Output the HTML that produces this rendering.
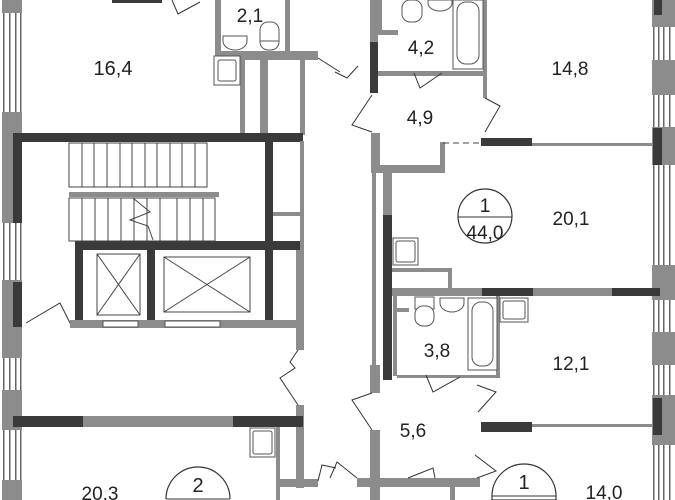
<!DOCTYPE html>
<html><head><meta charset="utf-8"><style>
html,body{margin:0;padding:0;background:#fff;width:675px;height:500px;overflow:hidden}
svg{display:block;overflow:hidden}
text{font-family:"Liberation Sans",sans-serif;fill:#222;text-anchor:middle}
</style></head><body>
<svg width="675" height="500" viewBox="0 0 675 500" xmlns="http://www.w3.org/2000/svg">
<defs>
<pattern id="win" width="22" height="4" patternUnits="userSpaceOnUse">
<rect width="22" height="4" fill="#fff"/>
<rect x="3" width="1.5" height="4" fill="#666"/><rect x="9" width="1.5" height="4" fill="#666"/><rect x="15" width="1.5" height="4" fill="#666"/><rect x="20" width="1.5" height="4" fill="#666"/>
</pattern>
</defs>
<rect x="0" y="0" width="22" height="500" fill="url(#win)"/>
<g fill="#8c8c8c">
<rect x="2" y="0" width="20" height="13"/>
<rect x="2" y="112" width="20" height="111"/>
<rect x="2" y="280" width="20" height="78"/>
<rect x="2" y="390" width="20" height="40"/>
<rect x="2" y="480" width="20" height="20"/>
</g>
<g fill="#3a3a3a">
<rect x="13" y="135" width="9" height="88"/>
<rect x="13" y="282" width="9" height="45"/>
</g>
<rect x="652" y="0" width="23" height="500" fill="url(#win)"/>
<g fill="#8c8c8c">
<rect x="652" y="0" width="23" height="27"/>
<rect x="652" y="60" width="23" height="35"/>
<rect x="652" y="127" width="23" height="38"/>
<rect x="652" y="265" width="23" height="35"/>
<rect x="652" y="332" width="23" height="33"/>
<rect x="652" y="395" width="23" height="50"/>
</g>
<g fill="#3a3a3a">
<rect x="654" y="0" width="8" height="15"/>
<rect x="653" y="128" width="9" height="37"/>
<rect x="653" y="398" width="9" height="37"/>
</g>
<rect x="112" y="0" width="50" height="3" fill="#3a3a3a"/>
<path d="M172 0 L178 14 L200 2" fill="none" stroke="#333" stroke-width="1"/>
<g fill="#8c8c8c">
<rect x="215" y="0" width="6" height="55"/>
<rect x="285" y="0" width="5" height="55"/>
<rect x="215" y="51" width="103" height="9"/>
<rect x="240" y="55" width="5" height="80"/>
<rect x="260" y="55" width="8" height="80"/>
<rect x="300" y="55" width="5" height="80"/>
</g>
<path d="M318 58 L340 72" stroke="#333" fill="none"/>
<rect x="214" y="56" width="26" height="29" fill="#fff" stroke="#555"/>
<rect x="218" y="60" width="18" height="21" fill="none" stroke="#555" rx="2"/>
<path d="M223 36 h24 v5 a12 9 0 0 1 -24 0z" fill="#fff" stroke="#555"/>
<rect x="260" y="22" width="19" height="28" rx="8" fill="#fff" stroke="#555"/>
<line x1="260" y1="41" x2="279" y2="41" stroke="#555"/>
<text x="250" y="22" font-size="19">2,1</text>
<text x="113" y="75" font-size="20">16,4</text>
<g fill="#3a3a3a">
<rect x="13" y="133" width="290" height="9"/>
<rect x="265" y="141" width="8" height="110"/>
<rect x="75" y="241" width="228" height="9"/>
<rect x="75" y="250" width="8" height="78"/>
<rect x="147" y="250" width="8" height="78"/>
<rect x="265" y="250" width="8" height="78"/>
</g>
<g stroke="#444" fill="none" stroke-width="1">
<rect x="69" y="143" width="138" height="44"/>
<path d="M82 143v44M94 143v44M107 143v44M120 143v44M132 143v44M145 143v44M157 143v44M170 143v44M182 143v44M195 143v44"/>
<rect x="69" y="198" width="146" height="43"/>
<path d="M82 198v43M95 198v43M108 198v43M121 198v43M134 198v43M147 198v43M160 198v43M177 198v43M190 198v43M203 198v43"/>
<path d="M133 198 L150 212 L130 220 L148 226 L153 240"/>
</g>
<rect x="69" y="192" width="150" height="5" fill="#8c8c8c"/>
<rect x="300" y="141" width="4" height="110" fill="#8c8c8c"/>
<rect x="273" y="212" width="30" height="4" fill="#8c8c8c"/>
<g stroke="#444" fill="none">
<rect x="97" y="254" width="43" height="61"/><path d="M97 254L140 315M140 254L97 315"/>
<rect x="164" y="257" width="86" height="55"/><path d="M164 257L250 312M250 257L164 312"/>
</g>
<rect x="70" y="320" width="234" height="8" fill="#8c8c8c"/>
<rect x="103" y="321" width="35" height="6" fill="#fff" stroke="#555"/>
<rect x="165" y="321" width="55" height="6" fill="#fff" stroke="#555"/>
<path d="M26 323 L60 303 L70 323" stroke="#333" fill="none"/>
<rect x="296" y="250" width="8" height="100" fill="#8c8c8c"/>
<rect x="296" y="405" width="8" height="83" fill="#8c8c8c"/>
<path d="M298 350 L290 362 L295 368 L280 378 L298 405" stroke="#333" fill="none"/>
<rect x="13" y="416" width="290" height="11" fill="#8c8c8c"/>
<rect x="13" y="416" width="70" height="11" fill="#3a3a3a"/>
<rect x="233" y="416" width="70" height="11" fill="#3a3a3a"/>
<rect x="276" y="427" width="4" height="73" fill="#8c8c8c"/>
<rect x="280" y="479" width="38" height="8" fill="#8c8c8c"/>
<path d="M318 481 L322 465 L336 468" stroke="#333" fill="none"/>
<rect x="250" y="428" width="25" height="29" fill="#fff" stroke="#555"/>
<rect x="253" y="431" width="19" height="23" fill="none" stroke="#555" rx="2"/>
<path d="M166 499 A32 32 0 0 1 230 499" fill="#fff" stroke="#333" stroke-width="1.2"/>
<line x1="166" y1="499" x2="230" y2="499" stroke="#333"/>
<text x="198" y="492" font-size="20">2</text>
<text x="100" y="500" font-size="19">20,3</text>
<g fill="#8c8c8c">
<rect x="370" y="0" width="8" height="42"/>
<rect x="378" y="0" width="4" height="35"/>
<rect x="378" y="30" width="20" height="5"/>
<rect x="378" y="71" width="107" height="5"/>
<rect x="483" y="0" width="4" height="98"/>
<rect x="371" y="133" width="9" height="40"/>
<rect x="372" y="165" width="73" height="8"/>
<rect x="440" y="142" width="5" height="30"/>
<rect x="532" y="143" width="121" height="3"/>
<rect x="372" y="173" width="4" height="192"/>
<rect x="383" y="173" width="9" height="42"/>
<rect x="392" y="268" width="60" height="4"/>
<rect x="448" y="268" width="4" height="22"/>
<rect x="383" y="288" width="270" height="8"/>
<rect x="393" y="296" width="4" height="80"/>
<rect x="397" y="308" width="12" height="4"/>
<rect x="496" y="296" width="4" height="82"/>
<rect x="397" y="375" width="100" height="3"/>
<rect x="532" y="424" width="121" height="3"/>
<rect x="370" y="365" width="10" height="28"/>
<rect x="370" y="430" width="10" height="70"/>
<rect x="357" y="478" width="123" height="9"/>
<rect x="450" y="485" width="5" height="15"/>
</g>
<g fill="#3a3a3a">
<rect x="370" y="42" width="8" height="51"/>
<rect x="481" y="138" width="51" height="8"/>
<rect x="383" y="215" width="9" height="165"/>
<rect x="482" y="288" width="51" height="8"/>
<rect x="612" y="288" width="48" height="8"/>
<rect x="481" y="422" width="51" height="10"/>
</g>
<path d="M443 143 H482" stroke="#444" stroke-dasharray="6 4"/>
<g stroke="#333" fill="none">
<path d="M414 73 L420 88 L442 73"/>
<path d="M372 95 L352 125 L372 132"/>
<path d="M485 98 L500 106 L485 132"/>
<path d="M358 66 L347 78 L335 72"/>
<path d="M426 375 L433 392 L460 377"/>
<path d="M477 385 L496 392 L478 412"/>
<path d="M372 393 L352 400 L372 430"/>
<path d="M475 455 L496 471 L477 478"/>
<path d="M435 478 L433 468 L408 478"/>
<path d="M357 478 L337 462 L330 478"/>
</g>
<g stroke="#555" fill="#fff">
<rect x="453" y="0" width="30" height="69"/>
<rect x="457" y="2" width="22" height="62" rx="9"/>
<rect x="402" y="0" width="20" height="22" rx="8"/>
<path d="M428 0 h24 v3 a12 8 0 0 1 -24 0z"/>
<rect x="393" y="238" width="25" height="27"/>
<rect x="396" y="241" width="19" height="21" rx="2"/>
<rect x="468" y="298" width="29" height="72"/>
<rect x="472" y="302" width="21" height="64" rx="9"/>
<rect x="500" y="298" width="28" height="24"/>
<rect x="503" y="301" width="22" height="18" rx="2"/>
<path d="M440 298 h24 v5 a12 9 0 0 1 -24 0z"/>
<rect x="415" y="297" width="19" height="12"/>
<rect x="415" y="306" width="19" height="20" rx="8"/>
</g>
<text x="421" y="54" font-size="19">4,2</text>
<text x="420" y="124" font-size="19">4,9</text>
<text x="570" y="75" font-size="19">14,8</text>
<text x="571" y="225" font-size="19">20,1</text>
<text x="437" y="357" font-size="19">3,8</text>
<text x="571" y="370" font-size="19">12,1</text>
<text x="413" y="437" font-size="19">5,6</text>
<text x="604" y="499" font-size="19">14,0</text>
<circle cx="485" cy="216" r="27" fill="#fff" stroke="#333" stroke-width="1.2"/>
<line x1="458" y1="217" x2="512" y2="217" stroke="#333"/>
<text x="485" y="212" font-size="19">1</text>
<text x="485" y="239" font-size="19">44,0</text>
<path d="M492 496 A32 32 0 0 1 556 496 L556 500 L492 500 Z" fill="#fff" stroke="#333" stroke-width="1.2"/>
<line x1="492" y1="496" x2="556" y2="496" stroke="#333"/>
<text x="524" y="489" font-size="20">1</text>
</svg>
</body></html>
